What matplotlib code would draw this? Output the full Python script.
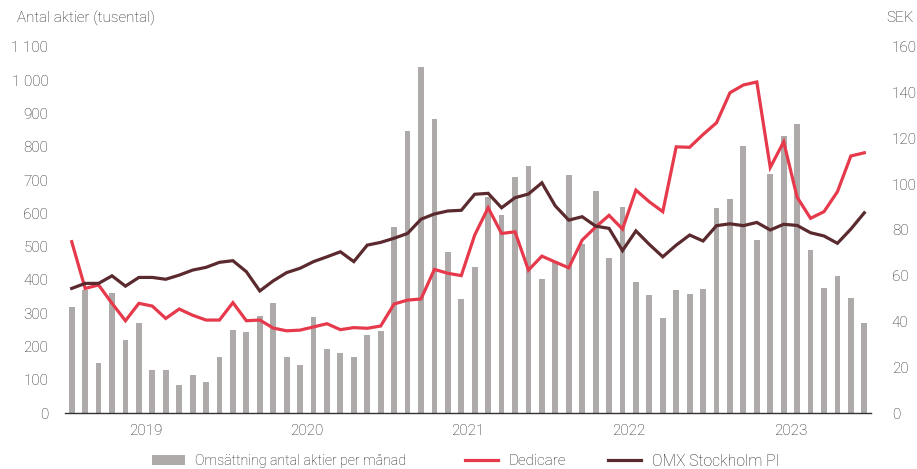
import matplotlib
matplotlib.use("Agg")
import matplotlib.pyplot as plt
import numpy as np
from matplotlib.ticker import FuncFormatter

plt.rcParams['font.family'] = ['Roboto', 'DejaVu Sans']
plt.rcParams['font.weight'] = 'light'

# Monthly data Jan 2019 - Dec 2023
years = ["2019", "2020", "2021", "2022", "2023"]
volume = [318, 370, 151, 361, 219, 270, 131, 131, 84, 116, 94, 169,
          251, 243, 293, 330, 169, 144, 288, 193, 181, 169, 236, 246,
          560, 848, 1039, 882, 483, 344, 440, 650, 595, 709, 741, 403,
          458, 716, 508, 666, 467, 619, 395, 355, 286, 370, 358, 373,
          616, 643, 802, 519, 718, 832, 867, 489, 377, 412, 345, 271]
dedicare = [74.9, 54.5, 56.0, 48.0, 40.4, 48.0, 46.8, 41.4, 45.5, 42.8, 40.7, 40.7,
            48.3, 40.4, 40.7, 37.2, 36.0, 36.3, 37.7, 39.1, 36.5, 37.4, 37.1, 38.1,
            47.7, 49.4, 49.9, 62.8, 61.1, 60.1, 77.8, 89.7, 78.5, 79.2, 62.5, 68.6,
            66.0, 63.5, 75.6, 81.3, 86.4, 80.4, 97.4, 92.3, 88.0, 116.3, 116.1, 121.7,
            126.8, 139.9, 143.3, 144.6, 107.3, 118.5, 94.3, 85.1, 88.0, 96.7, 112.3, 113.7]
omx = [54.5, 56.7, 56.7, 60.0, 55.5, 59.3, 59.3, 58.5, 60.3, 62.5, 63.7, 65.9,
       66.6, 61.8, 53.4, 57.8, 61.4, 63.3, 66.2, 68.3, 70.5, 66.2, 73.4, 74.6,
       76.4, 78.5, 84.7, 87.0, 88.3, 88.6, 95.6, 96.0, 89.7, 94.1, 95.7, 100.6,
       90.5, 84.3, 85.8, 81.7, 80.7, 71.0, 79.6, 73.7, 68.3, 73.4, 77.8, 75.2,
       81.9, 82.7, 81.9, 83.3, 80.0, 82.5, 82.0, 78.8, 77.4, 74.2, 80.4, 87.5]

bar_color = "#AEAAA9"
red = "#E63A4C"
dark = "#5A2A2E"
text_color = "#222222"

fig = plt.figure(figsize=(9.17, 4.69), dpi=100)
ax = fig.add_axes([65/917, 1-413.3/469, (871-65)/917, (413.3-46.7)/469])
ax2 = ax.twinx()

x = np.arange(len(volume))
bars = ax.bar(x, volume, width=0.43, color=bar_color, zorder=1,
              label="Omsättning antal aktier per månad")
l1, = ax2.plot(x, dedicare, color=red, lw=2.3, label="Dedicare", solid_joinstyle='miter')
l2, = ax2.plot(x, omx, color=dark, lw=2.3, label="OMX Stockholm PI", solid_joinstyle='miter')

ax.set_xlim(-0.5, len(volume) - 0.5)
ax.set_ylim(0, 1100)
ax2.set_ylim(0, 160)
ax.set_yticks(np.arange(0, 1101, 100))
ax2.set_yticks(np.arange(0, 161, 20))
ax.yaxis.set_major_formatter(FuncFormatter(lambda v, p: f"{int(v):,}".replace(",", " ")))

ax.set_xticks([5.5 + 12 * i for i in range(len(years))])
ax.set_xticklabels(years)

for a in (ax, ax2):
    for s in a.spines.values():
        s.set_visible(False)
    a.tick_params(length=0, labelsize=11, colors=text_color)
ax.spines['bottom'].set_visible(True)
ax.spines['bottom'].set_color("#333333")
ax.spines['bottom'].set_linewidth(1.0)
ax.tick_params(axis='y', pad=12)
ax.tick_params(axis='x', pad=8)
ax2.tick_params(axis='y', pad=15)

fig.text(17/917, 1-18/469, "Antal aktier (tusental)", fontsize=11, color=text_color,
         ha='left', va='center')
fig.text(886/917, 1-18/469, "SEK", fontsize=11, color=text_color, ha='left', va='center')

for h, xpos, fs in ((bars, 152, 10.2), (l1, 465, 11), (l2, 608, 11.3)):
    fig.legend(handles=[h], loc='center left', bbox_to_anchor=(xpos/917, 1-461/469),
               frameon=False, fontsize=fs, handlelength=33/(fs*100/72), borderpad=0,
               borderaxespad=0, handletextpad=0.7, labelcolor=text_color)

fig.savefig("out.png", dpi=100)
